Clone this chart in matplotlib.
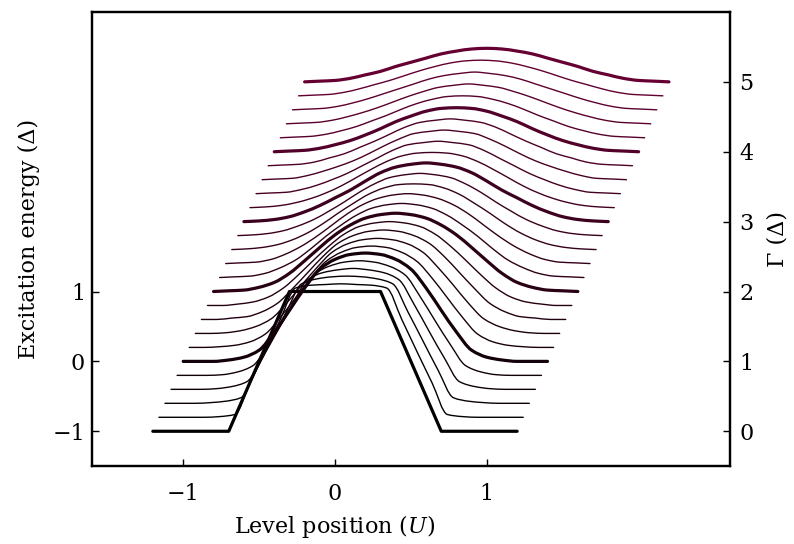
import numpy as np
import matplotlib
matplotlib.use("Agg")
import matplotlib.pyplot as plt
from matplotlib.path import Path
from matplotlib.patches import PathPatch
from matplotlib.colors import LinearSegmentedColormap

plt.rcParams['font.family'] = ['DejaVu Serif']
plt.rcParams['mathtext.fontset'] = 'dejavuserif'

# coupling of each curve (Delta)
gammas = [0.0, 0.2, 0.4, 0.6, 0.8, 1.0, 1.2, 1.4, 1.6, 1.8, 2.0, 2.2, 2.4, 2.6,
          2.8, 3.0, 3.2, 3.4, 3.6, 3.8, 4.0, 4.2, 4.4, 4.6, 4.8, 5.0]

# level position, half of each curve (curves are symmetric in U)
half_u = [0.0, 0.1, 0.2, 0.3, 0.4, 0.5, 0.6, 0.7, 0.8, 0.9, 1.0, 1.1, 1.2]

# excitation energy above -1 (Delta), one row per gamma, read at half_u
height = [
    [2.00, 2.00, 2.00, 2.00, 1.50, 1.00, 0.50, 0.00, 0.00, 0.00, 0.00, 0.00, 0.00],
    [1.91, 1.90, 1.89, 1.85, 1.40, 0.94, 0.49, 0.04, 0.01, 0.00, 0.00, 0.00, 0.00],
    [1.82, 1.81, 1.78, 1.71, 1.31, 0.89, 0.47, 0.08, 0.03, 0.01, 0.00, 0.00, 0.00],
    [1.73, 1.71, 1.67, 1.57, 1.22, 0.83, 0.45, 0.11, 0.04, 0.01, 0.00, 0.00, 0.00],
    [1.64, 1.62, 1.56, 1.44, 1.13, 0.78, 0.44, 0.14, 0.05, 0.01, 0.00, 0.00, 0.00],
    [1.55, 1.53, 1.46, 1.32, 1.05, 0.73, 0.42, 0.16, 0.06, 0.02, 0.00, 0.00, 0.00],
    [1.45, 1.43, 1.36, 1.23, 0.99, 0.71, 0.43, 0.19, 0.08, 0.03, 0.01, 0.00, 0.00],
    [1.36, 1.34, 1.28, 1.16, 0.94, 0.69, 0.43, 0.21, 0.10, 0.04, 0.01, 0.00, 0.00],
    [1.28, 1.26, 1.20, 1.09, 0.90, 0.67, 0.44, 0.23, 0.11, 0.04, 0.02, 0.00, 0.00],
    [1.20, 1.18, 1.13, 1.02, 0.85, 0.65, 0.44, 0.25, 0.12, 0.05, 0.02, 0.00, 0.00],
    [1.12, 1.10, 1.05, 0.95, 0.81, 0.63, 0.44, 0.26, 0.13, 0.06, 0.02, 0.01, 0.00],
    [1.06, 1.04, 0.99, 0.89, 0.75, 0.59, 0.41, 0.25, 0.14, 0.06, 0.02, 0.01, 0.00],
    [1.00, 0.98, 0.93, 0.84, 0.71, 0.55, 0.39, 0.25, 0.14, 0.06, 0.02, 0.01, 0.00],
    [0.94, 0.93, 0.88, 0.79, 0.66, 0.52, 0.37, 0.24, 0.14, 0.07, 0.03, 0.01, 0.00],
    [0.89, 0.87, 0.83, 0.74, 0.62, 0.48, 0.35, 0.23, 0.14, 0.07, 0.03, 0.01, 0.00],
    [0.84, 0.82, 0.78, 0.70, 0.58, 0.45, 0.34, 0.23, 0.14, 0.07, 0.03, 0.01, 0.00],
    [0.79, 0.78, 0.74, 0.66, 0.55, 0.43, 0.31, 0.21, 0.13, 0.07, 0.03, 0.01, 0.00],
    [0.75, 0.73, 0.70, 0.62, 0.51, 0.40, 0.29, 0.20, 0.12, 0.06, 0.02, 0.01, 0.00],
    [0.71, 0.69, 0.66, 0.58, 0.48, 0.37, 0.27, 0.19, 0.12, 0.06, 0.02, 0.01, 0.00],
    [0.67, 0.65, 0.62, 0.55, 0.45, 0.35, 0.26, 0.17, 0.11, 0.05, 0.02, 0.01, 0.00],
    [0.63, 0.62, 0.58, 0.51, 0.43, 0.33, 0.24, 0.16, 0.10, 0.05, 0.02, 0.01, 0.00],
    [0.60, 0.59, 0.55, 0.49, 0.41, 0.32, 0.24, 0.16, 0.10, 0.05, 0.02, 0.01, 0.00],
    [0.57, 0.55, 0.52, 0.46, 0.39, 0.31, 0.23, 0.16, 0.10, 0.05, 0.02, 0.01, 0.00],
    [0.54, 0.52, 0.49, 0.44, 0.37, 0.30, 0.23, 0.16, 0.10, 0.05, 0.02, 0.01, 0.00],
    [0.51, 0.50, 0.47, 0.42, 0.36, 0.29, 0.22, 0.16, 0.10, 0.05, 0.02, 0.01, 0.00],
    [0.48, 0.47, 0.44, 0.40, 0.34, 0.28, 0.22, 0.15, 0.10, 0.05, 0.02, 0.01, 0.00],
]


def curve_path(x, y, smooth=True):
    # monotone cubic bezier through the read points (no overshoot)
    x = np.asarray(x, float)
    y = np.asarray(y, float)
    if not smooth:
        codes = [Path.MOVETO] + [Path.LINETO] * (len(x) - 1)
        return Path(np.column_stack([x, y]), codes)
    dx = np.diff(x)
    d = np.diff(y) / dx
    m = np.zeros_like(y)
    m[0], m[-1] = d[0], d[-1]
    for k in range(1, len(x) - 1):
        if d[k - 1] * d[k] > 0:
            w1 = 2 * dx[k] + dx[k - 1]
            w2 = dx[k] + 2 * dx[k - 1]
            m[k] = (w1 + w2) / (w1 / d[k - 1] + w2 / d[k])
    verts = [(x[0], y[0])]
    codes = [Path.MOVETO]
    for k in range(len(x) - 1):
        h = dx[k] / 3.0
        verts += [(x[k] + h, y[k] + m[k] * h),
                  (x[k + 1] - h, y[k + 1] - m[k + 1] * h),
                  (x[k + 1], y[k + 1])]
        codes += [Path.CURVE4] * 3
    return Path(verts, codes)


cmap = LinearSegmentedColormap.from_list('dark', ['#000000', '#660033'])

fig = plt.figure(figsize=(7.94, 5.44), dpi=100)
ax = fig.add_axes([0.116, 0.143, 0.803, 0.835])

u_full = np.concatenate([-np.array(half_u[:0:-1]), half_u])
for g, row in zip(gammas, height):
    h_full = np.concatenate([row[:0:-1], row])
    xs = u_full + 0.2 * g
    ys = h_full - 1 + g
    thick = abs(g - round(g)) < 1e-6
    patch = PathPatch(curve_path(xs, ys, smooth=g > 0), facecolor='none',
                      edgecolor=cmap(g / 5.0), lw=2.3 if thick else 1.0,
                      capstyle='round', joinstyle='round')
    ax.add_patch(patch)

ax.set_xlim(-1.6, 2.6)
ax.set_ylim(-1.5, 5.0)
ax.set_xticks([-1, 0, 1])
ax.set_xticklabels(['\u22121', '0', '1'])
ax.set_yticks([-1, 0, 1])
ax.set_yticklabels(['\u22121', '0', '1'])
ax.tick_params(direction='in', length=5, width=1, labelsize=16,
               top=False, right=False)
ax.tick_params(axis='x', pad=12)
ax.tick_params(axis='y', pad=5)
ax.set_xlabel('Level position ($U$)', fontsize=16, labelpad=6)
ax.xaxis.label.set_x(0.381)
ax.set_ylabel('Excitation energy (\u0394)', fontsize=16, labelpad=9)

ax2 = ax.twinx()
ax2.set_ylim(-0.5, 6.0)
ax2.set_yticks([0, 1, 2, 3, 4, 5])
ax2.tick_params(direction='in', length=5, width=1, labelsize=16, pad=7)
ax2.set_ylabel('\u0393 (\u0394)', fontsize=16, labelpad=9)

for a in (ax, ax2):
    for s in a.spines.values():
        s.set_linewidth(1.6)

fig.savefig('out.png', dpi=100)
